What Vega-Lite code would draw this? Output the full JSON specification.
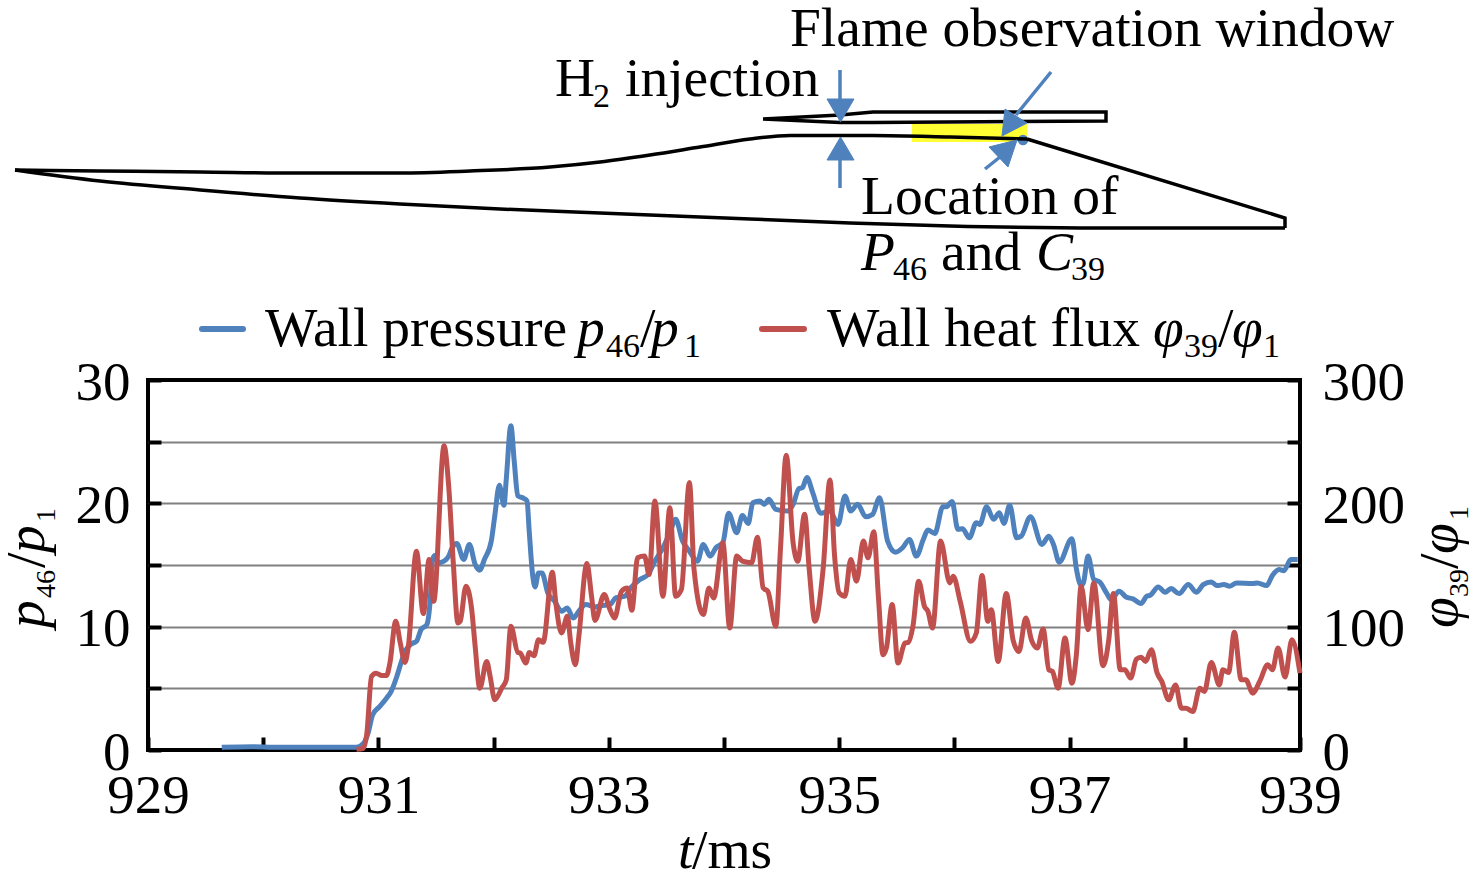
{"$schema":"https://vega.github.io/schema/vega-lite/v6.json","width":1152,"height":370,"autosize":"none","padding":{"left":148,"top":380,"right":176,"bottom":139},"background":"white","config":{"view":{"stroke":"black","strokeWidth":4},"font":"Liberation Serif"},"datasets":{"pressure":[{"t":929.64,"p":0.22},{"t":929.91,"p":0.27},{"t":930.09,"p":0.22},{"t":930.38,"p":0.22},{"t":930.67,"p":0.22},{"t":930.81,"p":0.22},{"t":930.87,"p":0.54},{"t":930.91,"p":1.36},{"t":930.95,"p":2.85},{"t":931.01,"p":3.52},{"t":931.07,"p":4.2},{"t":931.11,"p":4.74},{"t":931.16,"p":5.96},{"t":931.2,"p":7.18},{"t":931.24,"p":8.13},{"t":931.29,"p":8.62},{"t":931.33,"p":8.81},{"t":931.37,"p":9.76},{"t":931.42,"p":10.16},{"t":931.45,"p":12.2},{"t":931.47,"p":15.45},{"t":931.49,"p":15.77},{"t":931.52,"p":15.18},{"t":931.57,"p":15.31},{"t":931.61,"p":15.72},{"t":931.64,"p":16.4},{"t":931.68,"p":16.75},{"t":931.74,"p":15.45},{"t":931.79,"p":16.67},{"t":931.84,"p":15.04},{"t":931.88,"p":14.58},{"t":931.92,"p":15.45},{"t":931.98,"p":16.94},{"t":932.01,"p":18.97},{"t":932.05,"p":21.46},{"t":932.09,"p":19.84},{"t":932.11,"p":21.95},{"t":932.15,"p":26.29},{"t":932.18,"p":23.31},{"t":932.21,"p":20.6},{"t":932.26,"p":20.41},{"t":932.29,"p":20.19},{"t":932.31,"p":17.62},{"t":932.34,"p":14.09},{"t":932.36,"p":13.22},{"t":932.39,"p":14.36},{"t":932.42,"p":14.36},{"t":932.47,"p":12.74},{"t":932.53,"p":12.06},{"t":932.59,"p":11.25},{"t":932.64,"p":11.52},{"t":932.69,"p":10.7},{"t":932.75,"p":11.38},{"t":932.8,"p":11.79},{"t":932.88,"p":11.6},{"t":932.93,"p":11.71},{"t":933.01,"p":11.79},{"t":933.06,"p":12.33},{"t":933.14,"p":12.47},{"t":933.19,"p":13.14},{"t":933.27,"p":13.82},{"t":933.34,"p":14.23},{"t":933.4,"p":15.31},{"t":933.47,"p":16.4},{"t":933.53,"p":17.62},{"t":933.58,"p":18.7},{"t":933.64,"p":16.94},{"t":933.7,"p":16.12},{"t":933.77,"p":15.31},{"t":933.82,"p":16.67},{"t":933.88,"p":15.72},{"t":933.93,"p":16.4},{"t":933.99,"p":16.8},{"t":934.04,"p":19.19},{"t":934.11,"p":17.62},{"t":934.16,"p":19.02},{"t":934.21,"p":18.37},{"t":934.25,"p":20.05},{"t":934.31,"p":20.19},{"t":934.35,"p":19.92},{"t":934.39,"p":20.33},{"t":934.45,"p":19.51},{"t":934.55,"p":19.38},{"t":934.6,"p":19.92},{"t":934.65,"p":21.19},{"t":934.68,"p":21.27},{"t":934.72,"p":22.09},{"t":934.77,"p":20.87},{"t":934.84,"p":19.19},{"t":934.92,"p":19.38},{"t":934.99,"p":18.29},{"t":935.05,"p":20.6},{"t":935.1,"p":19.38},{"t":935.16,"p":19.92},{"t":935.23,"p":18.92},{"t":935.29,"p":19.11},{"t":935.35,"p":20.46},{"t":935.42,"p":16.94},{"t":935.49,"p":16.04},{"t":935.55,"p":16.4},{"t":935.61,"p":17.07},{"t":935.67,"p":15.72},{"t":935.73,"p":17.07},{"t":935.77,"p":17.83},{"t":935.83,"p":17.56},{"t":935.9,"p":19.73},{"t":935.93,"p":19.73},{"t":935.98,"p":20.14},{"t":936.03,"p":17.89},{"t":936.07,"p":17.94},{"t":936.13,"p":17.21},{"t":936.19,"p":18.43},{"t":936.22,"p":18.29},{"t":936.28,"p":19.73},{"t":936.34,"p":18.7},{"t":936.39,"p":19.24},{"t":936.43,"p":18.37},{"t":936.48,"p":19.84},{"t":936.54,"p":17.21},{"t":936.58,"p":17.34},{"t":936.66,"p":18.92},{"t":936.76,"p":16.67},{"t":936.82,"p":17.34},{"t":936.86,"p":16.67},{"t":936.91,"p":15.23},{"t":937.02,"p":17.13},{"t":937.06,"p":14.63},{"t":937.1,"p":13.33},{"t":937.12,"p":13.55},{"t":937.16,"p":15.72},{"t":937.21,"p":13.82},{"t":937.26,"p":13.63},{"t":937.32,"p":12.74},{"t":937.36,"p":12.2},{"t":937.43,"p":12.87},{"t":937.49,"p":12.41},{"t":937.55,"p":12.25},{"t":937.62,"p":11.87},{"t":937.67,"p":12.47},{"t":937.7,"p":12.55},{"t":937.77,"p":13.22},{"t":937.83,"p":12.79},{"t":937.88,"p":13.09},{"t":937.95,"p":12.68},{"t":938.03,"p":13.41},{"t":938.1,"p":12.79},{"t":938.16,"p":13.41},{"t":938.23,"p":13.63},{"t":938.28,"p":13.33},{"t":938.34,"p":13.41},{"t":938.39,"p":13.28},{"t":938.45,"p":13.55},{"t":938.59,"p":13.5},{"t":938.63,"p":13.55},{"t":938.71,"p":13.33},{"t":938.76,"p":14.15},{"t":938.82,"p":14.63},{"t":938.86,"p":14.53},{"t":938.92,"p":15.45},{"t":938.98,"p":15.45}],"flux":[{"t":930.81,"q":0.5},{"t":930.87,"q":1.4},{"t":930.9,"q":13.6},{"t":930.94,"q":59.6},{"t":930.98,"q":62.3},{"t":931.03,"q":60.4},{"t":931.07,"q":60.4},{"t":931.1,"q":70.5},{"t":931.15,"q":104.3},{"t":931.19,"q":86.7},{"t":931.23,"q":71},{"t":931.26,"q":84},{"t":931.33,"q":161.2},{"t":931.39,"q":110.6},{"t":931.44,"q":154.5},{"t":931.48,"q":120.6},{"t":931.57,"q":246.6},{"t":931.61,"q":214.1},{"t":931.65,"q":151.8},{"t":931.69,"q":103},{"t":931.71,"q":104.3},{"t":931.76,"q":132.8},{"t":931.81,"q":113.8},{"t":931.84,"q":84},{"t":931.88,"q":50.1},{"t":931.94,"q":71.8},{"t":931.97,"q":59.6},{"t":932.01,"q":40.7},{"t":932.07,"q":50.1},{"t":932.11,"q":56.9},{"t":932.15,"q":100.3},{"t":932.21,"q":79.1},{"t":932.23,"q":78.6},{"t":932.28,"q":70.5},{"t":932.31,"q":79.1},{"t":932.35,"q":76.4},{"t":932.39,"q":89.4},{"t":932.43,"q":87.3},{"t":932.51,"q":144.2},{"t":932.54,"q":119.2},{"t":932.59,"q":94.9},{"t":932.64,"q":108.4},{"t":932.67,"q":86.7},{"t":932.71,"q":69.1},{"t":932.74,"q":92.1},{"t":932.81,"q":151.2},{"t":932.85,"q":124.7},{"t":932.88,"q":105.1},{"t":932.96,"q":126},{"t":933.01,"q":113.8},{"t":933.05,"q":107},{"t":933.11,"q":128.7},{"t":933.16,"q":131.4},{"t":933.2,"q":113.3},{"t":933.25,"q":155.8},{"t":933.31,"q":157.2},{"t":933.35,"q":142.3},{"t":933.4,"q":201.9},{"t":933.47,"q":124.7},{"t":933.53,"q":196.5},{"t":933.58,"q":124.7},{"t":933.63,"q":130.1},{"t":933.7,"q":216.8},{"t":933.74,"q":146.3},{"t":933.82,"q":109.8},{"t":933.87,"q":131.4},{"t":933.91,"q":123.3},{"t":933.99,"q":168},{"t":934.05,"q":98.9},{"t":934.11,"q":157.2},{"t":934.16,"q":153.1},{"t":934.24,"q":151.8},{"t":934.29,"q":172.6},{"t":934.34,"q":131.4},{"t":934.38,"q":128.7},{"t":934.45,"q":100.3},{"t":934.49,"q":162.6},{"t":934.54,"q":239},{"t":934.6,"q":168},{"t":934.64,"q":153.1},{"t":934.7,"q":191.1},{"t":934.74,"q":146.3},{"t":934.79,"q":104.3},{"t":934.86,"q":146.3},{"t":934.92,"q":219},{"t":934.96,"q":157.2},{"t":935,"q":127.4},{"t":935.05,"q":124.7},{"t":935.1,"q":154.5},{"t":935.15,"q":136.9},{"t":935.21,"q":169.4},{"t":935.25,"q":155.8},{"t":935.3,"q":177},{"t":935.34,"q":124.7},{"t":935.38,"q":77.2},{"t":935.41,"q":82.7},{"t":935.46,"q":117.9},{"t":935.51,"q":70.5},{"t":935.57,"q":86.7},{"t":935.6,"q":87.3},{"t":935.64,"q":100.3},{"t":935.69,"q":136.9},{"t":935.74,"q":116.5},{"t":935.77,"q":112.5},{"t":935.81,"q":98.9},{"t":935.88,"q":169.4},{"t":935.96,"q":135.5},{"t":935.99,"q":140.9},{"t":936.05,"q":120.6},{"t":936.14,"q":88.1},{"t":936.19,"q":94.9},{"t":936.24,"q":141.5},{"t":936.29,"q":104.3},{"t":936.32,"q":113.8},{"t":936.38,"q":71.8},{"t":936.45,"q":126.8},{"t":936.51,"q":88.9},{"t":936.56,"q":79.9},{"t":936.62,"q":107},{"t":936.67,"q":88.9},{"t":936.72,"q":82.7},{"t":936.77,"q":98.1},{"t":936.82,"q":65},{"t":936.85,"q":63.7},{"t":936.9,"q":50.1},{"t":936.96,"q":90.8},{"t":937.02,"q":54.2},{"t":937.06,"q":78.6},{"t":937.1,"q":132.8},{"t":937.16,"q":97.6},{"t":937.21,"q":135.5},{"t":937.29,"q":68.3},{"t":937.34,"q":89.4},{"t":937.38,"q":126.8},{"t":937.44,"q":65},{"t":937.48,"q":65},{"t":937.53,"q":58.3},{"t":937.58,"q":73.7},{"t":937.62,"q":75.3},{"t":937.66,"q":71.8},{"t":937.71,"q":81.3},{"t":937.76,"q":62.3},{"t":937.8,"q":55.6},{"t":937.86,"q":40.7},{"t":937.92,"q":52.8},{"t":937.97,"q":33.9},{"t":938.01,"q":33.9},{"t":938.07,"q":31.2},{"t":938.13,"q":50.1},{"t":938.17,"q":47.4},{"t":938.23,"q":71},{"t":938.3,"q":52.8},{"t":938.33,"q":65},{"t":938.38,"q":62.9},{"t":938.43,"q":95.4},{"t":938.49,"q":56.9},{"t":938.53,"q":56.9},{"t":938.59,"q":46.1},{"t":938.65,"q":55.6},{"t":938.72,"q":69.1},{"t":938.76,"q":65},{"t":938.81,"q":82.7},{"t":938.87,"q":59.1},{"t":938.93,"q":89.4},{"t":939,"q":62.3}],"smooth":[{"part":"top","o":1,"sx":15,"sy":170},{"part":"top","o":2,"sx":100,"sy":171},{"part":"top","o":3,"sx":200,"sy":172},{"part":"top","o":4,"sx":300,"sy":173},{"part":"top","o":5,"sx":400,"sy":173},{"part":"top","o":6,"sx":470,"sy":171},{"part":"top","o":7,"sx":550,"sy":167},{"part":"top","o":8,"sx":600,"sy":162},{"part":"top","o":9,"sx":650,"sy":155},{"part":"top","o":10,"sx":700,"sy":147},{"part":"top","o":11,"sx":750,"sy":139},{"part":"top","o":12,"sx":790,"sy":135.5},{"part":"top","o":13,"sx":873,"sy":135.5},{"part":"top","o":14,"sx":950,"sy":137},{"part":"top","o":15,"sx":1027,"sy":139},{"part":"low","o":1,"sx":15,"sy":170},{"part":"low","o":2,"sx":100,"sy":181},{"part":"low","o":3,"sx":200,"sy":190},{"part":"low","o":4,"sx":300,"sy":198},{"part":"low","o":5,"sx":400,"sy":204},{"part":"low","o":6,"sx":500,"sy":209},{"part":"low","o":7,"sx":600,"sy":213},{"part":"low","o":8,"sx":700,"sy":217},{"part":"low","o":9,"sx":850,"sy":223},{"part":"low","o":10,"sx":950,"sy":226},{"part":"low","o":11,"sx":1100,"sy":228},{"part":"low","o":12,"sx":1285,"sy":228}],"straight":[{"part":"ramp","o":1,"sx":1027,"sy":139},{"part":"ramp","o":2,"sx":1285,"sy":218},{"part":"ramp","o":3,"sx":1285,"sy":228},{"part":"cowl","o":1,"sx":763,"sy":119},{"part":"cowl","o":2,"sx":840,"sy":115},{"part":"cowl","o":3,"sx":873,"sy":112},{"part":"cowl","o":4,"sx":1106,"sy":112},{"part":"cowl","o":5,"sx":1106,"sy":121},{"part":"cowl","o":6,"sx":873,"sy":122.5},{"part":"cowl","o":7,"sx":840,"sy":122.5},{"part":"cowl","o":8,"sx":763,"sy":119}],"window":[{"sx":912,"sx2":1027,"sy":124,"sy2":142}],"probe":[{"sx":1023,"sy":140}],"stems":[{"part":"h2top","o":1,"sx":840,"sy":70},{"part":"h2top","o":2,"sx":840,"sy":100},{"part":"h2bottom","o":1,"sx":840,"sy":188},{"part":"h2bottom","o":2,"sx":840,"sy":158},{"part":"window","o":1,"sx":1051,"sy":72},{"part":"window","o":2,"sx":1016,"sy":115},{"part":"location","o":1,"sx":985,"sy":169},{"part":"location","o":2,"sx":1000,"sy":157}],"keyp":[{"o":1,"sx":202,"sy":329},{"o":2,"sx":243,"sy":329}],"keyq":[{"o":1,"sx":762,"sy":329},{"o":2,"sx":804,"sy":329}],"heads":[{"part":"a","o":1,"sx":827,"sy":99},{"part":"a","o":2,"sx":854,"sy":99},{"part":"a","o":3,"sx":840.5,"sy":122},{"part":"a","o":4,"sx":827,"sy":99},{"part":"b","o":1,"sx":827,"sy":160},{"part":"b","o":2,"sx":854,"sy":160},{"part":"b","o":3,"sx":840.5,"sy":137},{"part":"b","o":4,"sx":827,"sy":160},{"part":"c","o":1,"sx":1005,"sy":109},{"part":"c","o":2,"sx":1027,"sy":123},{"part":"c","o":3,"sx":1002,"sy":136},{"part":"c","o":4,"sx":1005,"sy":109},{"part":"d","o":1,"sx":1017,"sy":140},{"part":"d","o":2,"sx":989,"sy":147},{"part":"d","o":3,"sx":1008,"sy":167},{"part":"d","o":4,"sx":1017,"sy":140}],"labels":[{"kind":"roman","text":"Flame observation window","sx":790,"sy":46},{"kind":"roman","text":"H","sx":555,"sy":96},{"kind":"sub","text":"2","sx":593,"sy":107},{"kind":"roman","text":"injection","sx":625,"sy":96},{"kind":"roman","text":"Location of","sx":861,"sy":214},{"kind":"italic","text":"P","sx":861,"sy":270},{"kind":"sub","text":"46","sx":893,"sy":280},{"kind":"roman","text":"and","sx":941,"sy":270},{"kind":"italic","text":"C","sx":1036,"sy":270},{"kind":"sub","text":"39","sx":1071,"sy":280},{"kind":"roman","text":"Wall pressure","sx":265,"sy":346},{"kind":"italic","text":"p","sx":577,"sy":346},{"kind":"sub","text":"46","sx":606,"sy":357},{"kind":"roman","text":"/","sx":640,"sy":346},{"kind":"italic","text":"p","sx":651,"sy":346},{"kind":"sub","text":"1","sx":684,"sy":357},{"kind":"roman","text":"Wall heat flux","sx":827,"sy":346},{"kind":"italic","text":"φ","sx":1153,"sy":346},{"kind":"sub","text":"39","sx":1184,"sy":357},{"kind":"roman","text":"/","sx":1218,"sy":346},{"kind":"italic","text":"φ","sx":1232,"sy":346},{"kind":"sub","text":"1","sx":1263,"sy":357},{"kind":"italic","text":"t","sx":678,"sy":868},{"kind":"roman","text":"/ms","sx":692,"sy":868},{"kind":"ritalic","text":"p","sx":44,"sy":628},{"kind":"rsub","text":"46","sx":55,"sy":598},{"kind":"rroman","text":"/","sx":44,"sy":568},{"kind":"ritalic","text":"p","sx":44,"sy":553},{"kind":"rsub","text":"1","sx":55,"sy":522},{"kind":"ritalic","text":"φ","sx":1457,"sy":628},{"kind":"rsub","text":"39","sx":1468,"sy":597},{"kind":"rroman","text":"/","sx":1457,"sy":569},{"kind":"ritalic","text":"φ","sx":1457,"sy":554},{"kind":"rsub","text":"1","sx":1468,"sy":520}]},"layer":[{"data":{"name":"pressure"},"mark":{"type":"line","color":"#4f81bd","strokeWidth":5,"interpolate":"monotone"},"encoding":{"x":{"field":"t","type":"quantitative","scale":{"domain":[929,939],"nice":false},"axis":{"values":[929,930,931,932,933,934,935,936,937,938,939],"labelExpr":"datum.value % 2 == 1 ? datum.label : ''","format":"d","title":null,"grid":false,"domain":false,"tickSize":-13,"tickWidth":4,"tickColor":"black","labelFontSize":55,"labelFont":"Liberation Serif","labelColor":"black","labelPadding":32,"labelOverlap":false,"labelBound":false,"labelFlush":false}},"y":{"field":"p","type":"quantitative","scale":{"domain":[0,30],"nice":false},"axis":{"values":[0,5,10,15,20,25,30],"labelExpr":"datum.value % 10 == 0 ? datum.label : ''","title":null,"grid":true,"gridColor":{"condition":{"test":"datum.value == 0 || datum.value == 30","value":"black"},"value":"#808080"},"gridWidth":2,"gridOpacity":1,"domain":false,"tickSize":-13,"tickWidth":4,"tickColor":"black","labelFontSize":55,"labelFont":"Liberation Serif","labelColor":"black","labelPadding":31,"labelOffset":2,"labelOverlap":false,"labelBound":false,"labelFlush":false}}}},{"data":{"name":"flux"},"mark":{"type":"line","color":"#c0504d","strokeWidth":5,"interpolate":"monotone"},"encoding":{"x":{"field":"t","type":"quantitative","scale":{"domain":[929,939],"nice":false},"axis":null},"y":{"field":"q","type":"quantitative","scale":{"domain":[0,300],"nice":false},"axis":{"orient":"right","values":[0,50,100,150,200,250,300],"labelExpr":"datum.value % 100 == 0 ? datum.label : ''","title":null,"grid":false,"domain":false,"tickSize":-13,"tickWidth":4,"tickColor":"black","labelFontSize":55,"labelFont":"Liberation Serif","labelColor":"black","labelPadding":35,"labelOffset":2,"labelOverlap":false,"labelBound":false,"labelFlush":false}}}},{"encoding":{"x":{"field":"sx","type":"quantitative","scale":{"domain":[0,1476],"range":[-148,1328],"nice":false,"zero":false},"axis":null},"y":{"field":"sy","type":"quantitative","scale":{"domain":[0,889],"range":[-380,509],"nice":false,"zero":false},"axis":null}},"layer":[{"data":{"name":"window"},"mark":{"type":"rect","color":"#ffff33"},"encoding":{"x2":{"field":"sx2"},"y2":{"field":"sy2"}}},{"data":{"name":"probe"},"mark":{"type":"point","filled":true,"color":"#4f81bd","size":110,"opacity":1}},{"data":{"name":"smooth"},"mark":{"type":"line","color":"black","strokeWidth":3.5,"interpolate":"monotone"},"encoding":{"detail":{"field":"part"},"order":{"field":"o"}}},{"data":{"name":"straight"},"mark":{"type":"line","color":"black","strokeWidth":3.5},"encoding":{"detail":{"field":"part"},"order":{"field":"o"}}},{"data":{"name":"stems"},"mark":{"type":"line","color":"#4f81bd","strokeWidth":3.5},"encoding":{"detail":{"field":"part"},"order":{"field":"o"}}},{"data":{"name":"keyp"},"mark":{"type":"line","color":"#4f81bd","strokeWidth":6,"strokeCap":"round"},"encoding":{"order":{"field":"o"}}},{"data":{"name":"keyq"},"mark":{"type":"line","color":"#c0504d","strokeWidth":6,"strokeCap":"round"},"encoding":{"order":{"field":"o"}}},{"data":{"name":"heads"},"mark":{"type":"line","color":"#4f81bd","fill":"#4f81bd","strokeWidth":1},"encoding":{"detail":{"field":"part"},"order":{"field":"o"}}},{"data":{"name":"labels"},"transform":[{"filter":"datum.kind == 'roman'"}],"mark":{"type":"text","font":"Liberation Serif","fontSize":55.5,"align":"left","baseline":"alphabetic","color":"black"},"encoding":{"text":{"field":"text"}}},{"data":{"name":"labels"},"transform":[{"filter":"datum.kind == 'italic'"}],"mark":{"type":"text","font":"Liberation Serif","fontSize":55.5,"fontStyle":"italic","align":"left","baseline":"alphabetic","color":"black"},"encoding":{"text":{"field":"text"}}},{"data":{"name":"labels"},"transform":[{"filter":"datum.kind == 'sub'"}],"mark":{"type":"text","font":"Liberation Serif","fontSize":34,"align":"left","baseline":"alphabetic","color":"black"},"encoding":{"text":{"field":"text"}}},{"data":{"name":"labels"},"transform":[{"filter":"datum.kind == 'rroman'"}],"mark":{"type":"text","font":"Liberation Serif","fontSize":55.5,"angle":270,"align":"left","baseline":"alphabetic","color":"black"},"encoding":{"text":{"field":"text"}}},{"data":{"name":"labels"},"transform":[{"filter":"datum.kind == 'ritalic'"}],"mark":{"type":"text","font":"Liberation Serif","fontSize":55.5,"fontStyle":"italic","angle":270,"align":"left","baseline":"alphabetic","color":"black"},"encoding":{"text":{"field":"text"}}},{"data":{"name":"labels"},"transform":[{"filter":"datum.kind == 'rsub'"}],"mark":{"type":"text","font":"Liberation Serif","fontSize":28,"angle":270,"align":"left","baseline":"alphabetic","color":"black"},"encoding":{"text":{"field":"text"}}}]}],"resolve":{"scale":{"x":"independent","y":"independent"},"axis":{"x":"independent","y":"independent"}}}
